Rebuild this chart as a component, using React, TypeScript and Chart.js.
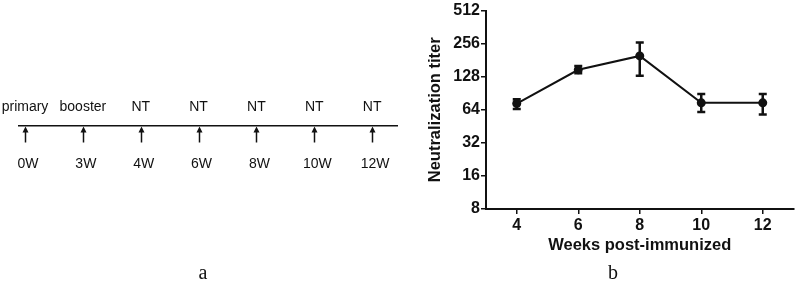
import { useEffect, useRef } from 'react';
import { Chart, registerables } from 'chart.js';

Chart.register(...registerables);

const FONT = "'Liberation Sans', Arial, Helvetica, sans-serif";
const INK = '#111111';

// ---- panel a: immunisation timeline ----
const timelineIndex = [0, 1, 2, 3, 4, 5, 6];
const timelineWeeks = ['0W', '3W', '4W', '6W', '8W', '10W', '12W'];
const timelineEvents = ['primary', 'booster', 'NT', 'NT', 'NT', 'NT', 'NT'];

// ---- panel b: neutralization titer ----
const weeks = [4, 6, 8, 10, 12];
const titerMean = [73, 148, 198, 74, 74];
const titerUpper = [80, 160, 262, 89, 89];
const titerLower = [65, 138, 131, 61, 58];
const yTicks = [8, 16, 32, 64, 128, 256, 512];
const xTicks = [4, 6, 8, 10, 12];

function Timeline() {
  const ref = useRef<HTMLCanvasElement>(null);
  useEffect(() => {
    if (!ref.current) return;
    const arrowPlugin = {
      id: 'arrows',
      afterDraw(chart: any) {
        const xs = chart.scales.x;
        const ctx = chart.ctx;
        const y0 = xs.top + 1;
        ctx.save();
        ctx.strokeStyle = INK;
        ctx.fillStyle = INK;
        ctx.lineWidth = 1.5;
        timelineIndex.forEach((i) => {
          const x = Math.round(xs.getPixelForValue(i)) + 0.5;
          ctx.beginPath();
          ctx.moveTo(x, y0 + 4);
          ctx.lineTo(x, y0 + 16);
          ctx.stroke();
          ctx.beginPath();
          ctx.moveTo(x, y0);
          ctx.lineTo(x - 3, y0 + 6);
          ctx.lineTo(x + 3, y0 + 6);
          ctx.closePath();
          ctx.fill();
        });
        ctx.restore();
      },
    };
    const setTicks = (s: any) => {
      s.ticks = timelineIndex.map((v) => ({ value: v }));
    };
    const chart = new Chart(ref.current, {
      type: 'scatter',
      data: {
        datasets: [
          {
            data: timelineIndex.map((i) => ({ x: i, y: 0.5 })),
            pointRadius: 0,
            showLine: false,
          },
        ],
      },
      options: {
        animation: false,
        responsive: false,
        devicePixelRatio: 1,
        events: [],
        layout: { padding: { left: 19, right: 3, top: 0, bottom: 0 } },
        plugins: { legend: { display: false }, tooltip: { enabled: false } },
        scales: {
          x: {
            type: 'linear',
            position: 'bottom',
            min: -0.104,
            max: 6.43,
            afterBuildTicks: setTicks,
            afterFit: (s: any) => {
              s.height = 156.5;
              s.paddingLeft = 0;
              s.paddingRight = 0;
            },
            ticks: {
              callback: (_v: any, i: number) => timelineWeeks[i],
              font: { family: FONT, size: 14 },
              color: INK,
              padding: 30,
              labelOffset: 3,
              maxRotation: 0,
              autoSkip: false,
            },
            grid: { display: false, drawTicks: false },
            border: { display: true, color: INK, width: 1.5 },
          },
          x2: {
            type: 'linear',
            position: 'top',
            min: -0.104,
            max: 6.43,
            afterBuildTicks: setTicks,
            afterFit: (s: any) => {
              s.height = 120.5;
              s.paddingLeft = 0;
              s.paddingRight = 0;
            },
            ticks: {
              callback: (_v: any, i: number) => timelineEvents[i],
              font: { family: FONT, size: 14 },
              color: INK,
              padding: 5,
              maxRotation: 0,
              autoSkip: false,
            },
            grid: { display: false, drawTicks: false },
            border: { display: false },
          },
          y: { display: false, min: 0, max: 1 },
        },
      },
      plugins: [arrowPlugin],
    } as any);
    return () => chart.destroy();
  }, []);
  return <canvas ref={ref} width={400} height={282} />;
}

function TiterChart() {
  const ref = useRef<HTMLCanvasElement>(null);
  useEffect(() => {
    if (!ref.current) return;
    const errorBarPlugin = {
      id: 'errorBars',
      beforeDatasetsDraw(chart: any) {
        const xs = chart.scales.x;
        const ys = chart.scales.y;
        const ctx = chart.ctx;
        ctx.save();
        ctx.strokeStyle = INK;
        ctx.lineWidth = 2.5;
        weeks.forEach((w, i) => {
          const x = xs.getPixelForValue(w);
          const yt = ys.getPixelForValue(titerUpper[i]);
          const yb = ys.getPixelForValue(titerLower[i]);
          ctx.beginPath();
          ctx.moveTo(x, yt);
          ctx.lineTo(x, yb);
          ctx.moveTo(x - 4, yt);
          ctx.lineTo(x + 4, yt);
          ctx.moveTo(x - 4, yb);
          ctx.lineTo(x + 4, yb);
          ctx.stroke();
        });
        ctx.restore();
      },
    };
    const chart = new Chart(ref.current, {
      type: 'line',
      data: {
        datasets: [
          {
            data: weeks.map((w, i) => ({ x: w, y: titerMean[i] })),
            borderColor: INK,
            borderWidth: 2,
            pointRadius: 4.5,
            pointBackgroundColor: INK,
            pointBorderColor: INK,
            pointBorderWidth: 0,
            tension: 0,
          },
        ],
      },
      options: {
        animation: false,
        responsive: false,
        devicePixelRatio: 1,
        events: [],
        layout: { padding: { left: 25, right: 3, top: 9, bottom: 0 } },
        plugins: { legend: { display: false }, tooltip: { enabled: false } },
        scales: {
          x: {
            type: 'linear',
            min: 3,
            max: 13,
            afterBuildTicks: (s: any) => {
              s.ticks = xTicks.map((v) => ({ value: v }));
            },
            afterFit: (s: any) => {
              s.height = 73;
              s.paddingLeft = 0;
              s.paddingRight = 0;
            },
            ticks: {
              font: { family: FONT, size: 16, weight: 'bold' },
              color: INK,
              padding: 2,
              maxRotation: 0,
              autoSkip: false,
            },
            grid: {
              display: true,
              drawOnChartArea: false,
              drawTicks: true,
              tickLength: 5,
              color: INK,
              lineWidth: 1.5,
            },
            border: { display: true, color: INK, width: 2 },
            title: {
              display: true,
              text: 'Weeks post-immunized',
              font: { family: FONT, size: 16.5, weight: 'bold' },
              color: INK,
              padding: { top: 0, bottom: 27 },
            },
          },
          y: {
            type: 'logarithmic',
            min: 8,
            max: 512,
            afterBuildTicks: (s: any) => {
              s.ticks = yTicks.map((v) => ({ value: v }));
            },
            afterFit: (s: any) => {
              s.width = 61;
            },
            ticks: {
              callback: (v: any) => String(v),
              font: { family: FONT, size: 16, weight: 'bold' },
              color: INK,
              padding: 1,
              autoSkip: false,
            },
            grid: {
              display: true,
              drawOnChartArea: false,
              drawTicks: true,
              tickLength: 5,
              color: INK,
              lineWidth: 1.5,
            },
            border: { display: true, color: INK, width: 2 },
            title: {
              display: true,
              text: 'Neutralization titer',
              font: { family: FONT, size: 16.5, weight: 'bold' },
              color: INK,
              padding: { top: 1, bottom: 1 },
            },
          },
        },
      },
      plugins: [errorBarPlugin],
    } as any);
    return () => chart.destroy();
  }, []);
  return <canvas ref={ref} width={398} height={282} />;
}

const panelLabel: React.CSSProperties = {
  position: 'absolute',
  top: 262,
  width: 40,
  textAlign: 'center',
  fontFamily: "'Liberation Serif', 'Times New Roman', serif",
  fontSize: 20,
  lineHeight: '20px',
  color: INK,
};

export default function App() {
  return (
    <div
      style={{
        position: 'fixed',
        left: 0,
        top: 0,
        width: 798,
        height: 282,
        background: '#ffffff',
        overflow: 'hidden',
      }}
    >
      <div style={{ position: 'absolute', left: 0, top: 0, width: 400, height: 282 }}>
        <Timeline />
      </div>
      <div style={{ position: 'absolute', left: 400, top: 0, width: 398, height: 282 }}>
        <TiterChart />
      </div>
      <div style={{ ...panelLabel, left: 183 }}>a</div>
      <div style={{ ...panelLabel, left: 593 }}>b</div>
    </div>
  );
}
